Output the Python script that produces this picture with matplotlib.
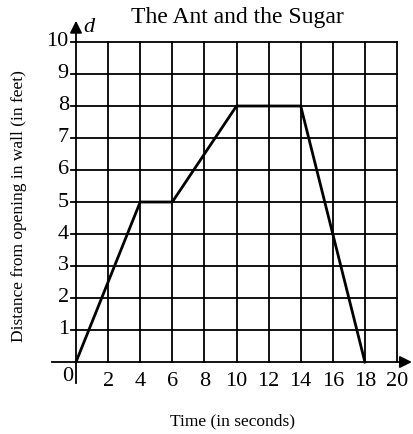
import matplotlib
matplotlib.use("Agg")
import matplotlib.pyplot as plt

t_vals = [0, 4, 6, 10, 14, 18]
d_vals = [0, 5, 5, 8, 8, 0]
x_ticks = [2, 4, 6, 8, 10, 12, 14, 16, 18, 20]
y_ticks = [1, 2, 3, 4, 5, 6, 7, 8, 9, 10]

plt.rcParams['font.family'] = ['Liberation Serif', 'DejaVu Serif']

fig = plt.figure(figsize=(4.13, 4.34), dpi=100)
ax = fig.add_axes([76/413, 1-362/434, (397-76)/413, (362-42)/434])
ax.set_xlim(0, 20)
ax.set_ylim(0, 10)
for s in ax.spines.values():
    s.set_visible(False)
ax.set_xticks([])
ax.set_yticks([])

# grid
for x in range(2, 21, 2):
    ax.plot([x, x], [0, 10], color='black', lw=1.3, clip_on=False)
for y in range(1, 11):
    ax.plot([-0.3, 20], [y, y], color='black', lw=1.3, clip_on=False)

# axes with arrows
ax.plot([-1.5, 20], [0, 0], color='black', lw=1.3, clip_on=False)
ax.plot([0, 0], [-0.65, 10], color='black', lw=1.3, clip_on=False)
ax.annotate('', xy=(21.1, 0), xytext=(19.9, 0),
            arrowprops=dict(arrowstyle='-|>', color='black', lw=1.3, mutation_scale=18),
            annotation_clip=False)
ax.annotate('', xy=(0, 10.75), xytext=(0, 9.95),
            arrowprops=dict(arrowstyle='-|>', color='black', lw=1.3, mutation_scale=18),
            annotation_clip=False)

# data
ax.plot(t_vals, d_vals, color='black', lw=2, clip_on=False)

# tick labels
for x in x_ticks:
    ax.text(x, -0.3, str(x), ha='center', va='top', fontsize=16)
ax.text(-0.5, -0.15, '0', ha='center', va='top', fontsize=16)
for y in y_ticks:
    ax.text(-0.45, y, str(y), ha='right', va='center', fontsize=16)

ax.text(0.45, 10.45, 'd', fontsize=16, style='italic', ha='left', va='center')

fig.text(237/413, 1-17/434, 'The Ant and the Sugar', ha='center', va='center', fontsize=17)
fig.text(232/413, 1-421/434, 'Time (in seconds)', ha='center', va='center', fontsize=12.5)
fig.text(19/413, 1-206/434, 'Distance from opening in wall (in feet)', ha='center', va='center',
         rotation=90, fontsize=12.5)

fig.savefig('out.png', dpi=100)
